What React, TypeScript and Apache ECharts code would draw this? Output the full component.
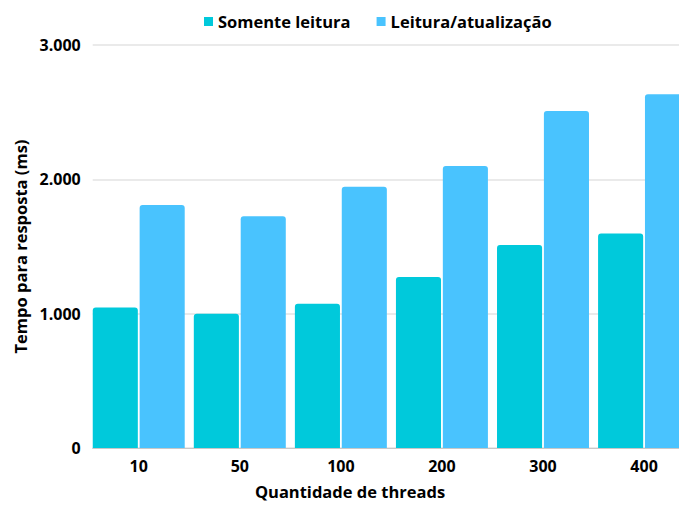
import React, { useEffect, useRef } from "react";
import * as echarts from "echarts";

const categories = ["10", "50", "100", "200", "300", "400"];
const somenteLeitura = [1045, 1000, 1074, 1273, 1511, 1596];
const leituraAtualizacao = [1809, 1725, 1945, 2099, 2509, 2633];
const seriesNames = ["Somente leitura", "Leitura/atualização"];
const yTicks = { min: 0, max: 3000, interval: 1000 };

const FONT = "'Open Sans', 'Noto Sans', sans-serif";
const TEAL = "#00C9DB";
const BLUE = "#49C3FE";

export default function App() {
  const ref = useRef<HTMLDivElement>(null);
  useEffect(() => {
    if (!ref.current) return;
    const chart = echarts.init(ref.current, undefined, { renderer: "svg" });
    const fmt = (v: number) =>
      v === 0 ? "0" : v.toLocaleString("de-DE").replace(",", ".");
    chart.setOption({
      animation: false,
      textStyle: { fontFamily: FONT },
      legend: {
        data: seriesNames,
        left: 199,
        top: 8,
        itemWidth: 9,
        itemHeight: 9,
        itemGap: 26,
        icon: "rect",
        textStyle: { fontFamily: FONT, fontSize: 16.5, fontWeight: "bold", color: "#000" },
      },
      grid: [
        { left: 92.7, right: 0, top: 45, bottom: 59 },
        { left: 88.2, width: 606.4, top: 45, bottom: 59 },
      ],
      xAxis: [
        {
          gridIndex: 0,
          type: "category",
          data: categories,
          axisLine: { show: true, lineStyle: { color: "#c8c8c8", width: 1 } },
          axisTick: { show: false },
          axisLabel: { show: false },
        },
        {
          gridIndex: 1,
          type: "category",
          data: categories,
          axisLine: { show: false },
          axisTick: { show: false },
          axisLabel: {
            margin: 10,
            fontFamily: FONT,
            fontSize: 16,
            fontWeight: "bold",
            color: "#000",
          },
        },
      ],
      yAxis: [
        {
          gridIndex: 0,
          type: "value",
          min: yTicks.min,
          max: yTicks.max,
          interval: yTicks.interval,
          name: "Tempo para resposta (ms)",
          nameLocation: "middle",
          nameGap: 61,
          nameTextStyle: { fontFamily: FONT, fontSize: 16.5, fontWeight: "bold", color: "#000" },
          axisLine: { show: false },
          axisTick: { show: false },
          axisLabel: {
            margin: 12,
            fontFamily: FONT,
            fontSize: 16,
            fontWeight: "bold",
            color: "#000",
            formatter: fmt,
          },
          splitLine: { show: true, lineStyle: { color: "#e3e3e3", width: 1.5 } },
        },
        {
          gridIndex: 1,
          type: "value",
          min: yTicks.min,
          max: yTicks.max,
          interval: yTicks.interval,
          show: false,
          splitLine: { show: false },
        },
      ],
      graphic: [
        {
          type: "text",
          x: 350,
          y: 491,
          style: {
            text: "Quantidade de threads",
            fontFamily: FONT,
            fontSize: 16.5,
            fontWeight: "bold",
            fill: "#000",
            textAlign: "center",
            textVerticalAlign: "middle",
          },
        },
      ],
      series: [
        {
          name: seriesNames[0],
          type: "bar",
          xAxisIndex: 1,
          yAxisIndex: 1,
          data: somenteLeitura,
          barCategoryGap: "9%",
          barGap: "4%",
          itemStyle: { color: TEAL, borderRadius: [3, 3, 0, 0] },
        },
        {
          name: seriesNames[1],
          type: "bar",
          xAxisIndex: 1,
          yAxisIndex: 1,
          data: leituraAtualizacao,
          barCategoryGap: "9%",
          barGap: "4%",
          itemStyle: { color: BLUE, borderRadius: [3, 3, 0, 0] },
        },
      ],
    });
    return () => chart.dispose();
  }, []);
  return (
    <div
      style={{
        position: "fixed",
        left: 0,
        top: 0,
        width: 679,
        height: 507,
        overflow: "hidden",
        background: "#fff",
      }}
    >
      <div ref={ref} style={{ width: 720, height: 507 }} />
    </div>
  );
}
